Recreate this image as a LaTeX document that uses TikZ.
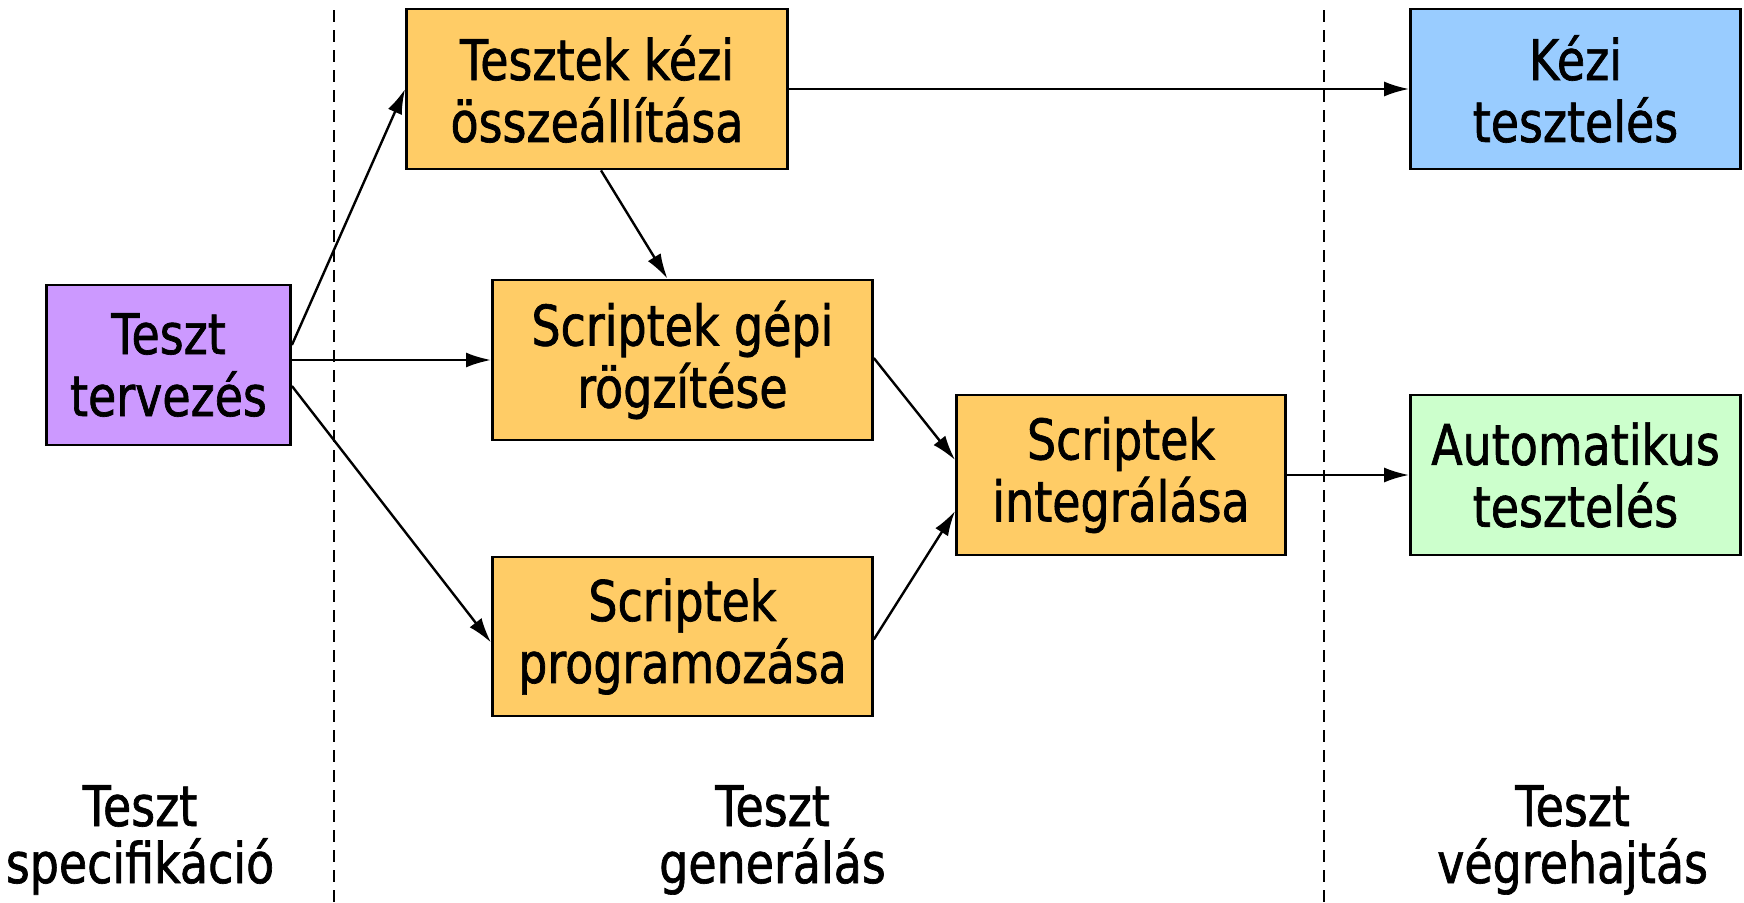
\documentclass[tikz,border=0pt]{standalone}
\usepackage{fontspec}
\setmainfont{DejaVu Sans}[FakeStretch=0.82,FakeBold=1.2]
\usetikzlibrary{arrows.meta}
\definecolor{cpurple}{HTML}{CC99FF}
\definecolor{corange}{HTML}{FFCC66}
\definecolor{cblue}{HTML}{99CCFF}
\definecolor{cgreen}{HTML}{CCFFCC}
\tikzset{
  box/.style={draw=black, line width=2.8pt, inner sep=0pt, align=center,
    font=\fontsize{56}{62}\selectfont},
  conn/.style={line width=2.4pt, -{Latex[length=25pt,width=15pt]}},
  divider/.style={line width=2pt, dash pattern=on 12pt off 8pt},
  lbl/.style={inner sep=0pt, anchor=base, font=\fontsize{56}{62}\selectfont}
}
\begin{document}
\begin{tikzpicture}[x=1pt,y=-1pt]
\useasboundingbox (0,0) rectangle (1744,902);
% dividers
\coordinate (d1t) at (333.7,10);
\coordinate (d1b) at (333.7,902);
\coordinate (d2t) at (1323.5,10);
\coordinate (d2b) at (1323.5,902);
\draw[divider] (d1t) -- (d1b);
\draw[divider] (d2t) -- (d2b);
% boxes
\node[box, fill=cpurple, minimum width=244pt, minimum height=160pt] (tt) at (168.5,365) {Teszt\\tervezés};
\node[box, fill=corange, minimum width=381pt, minimum height=160pt] (tk) at (597,89) {Tesztek kézi\\összeállítása};
\node[box, fill=corange, minimum width=380pt, minimum height=160pt] (sg) at (682.4,360) {Scriptek gépi\\rögzítése};
\node[box, fill=corange, minimum width=380pt, minimum height=159pt] (sp) at (682.4,636.5) {Scriptek\\programozása};
\node[box, fill=corange, minimum width=329pt, minimum height=160pt] (si) at (1121,475) {Scriptek\\integrálása};
\node[box, fill=cblue, minimum width=330pt, minimum height=160pt] (kt) at (1575.5,89) {Kézi\\tesztelés};
\node[box, fill=cgreen, minimum width=330pt, minimum height=160pt] (at) at (1575.5,475) {Automatikus\\tesztelés};
% connectors
\draw[conn] ([yshift=20pt]tt.east) -- (tk.west);
\draw[conn] (tt.east |- sg.west) -- (sg.west);
\draw[conn] ([yshift=-21pt]tt.east) -- ([yshift=-6pt]sp.west);
\draw[conn] ([xshift=4pt]tk.south) -- ([xshift=-15pt]sg.north);
\draw[conn] ([yshift=2pt]sg.east) -- ([yshift=15pt]si.west);
\draw[conn] ([yshift=-3pt]sp.east) -- ([yshift=-36pt]si.west);
\draw[conn] (tk.east) -- (kt.west);
\draw[conn] (si.east) -- (at.west);
% bottom labels
\node[lbl] (l1a) at (140,826) {Teszt};
\node[lbl] (l1b) at (140,883) {specifikáció};
\node[lbl] (l2a) at (772.5,826) {Teszt};
\node[lbl] (l2b) at (772.5,883) {generálás};
\node[lbl] (l3a) at (1572.6,826) {Teszt};
\node[lbl] (l3b) at (1572.6,883) {végrehajtás};
\end{tikzpicture}
\end{document}
